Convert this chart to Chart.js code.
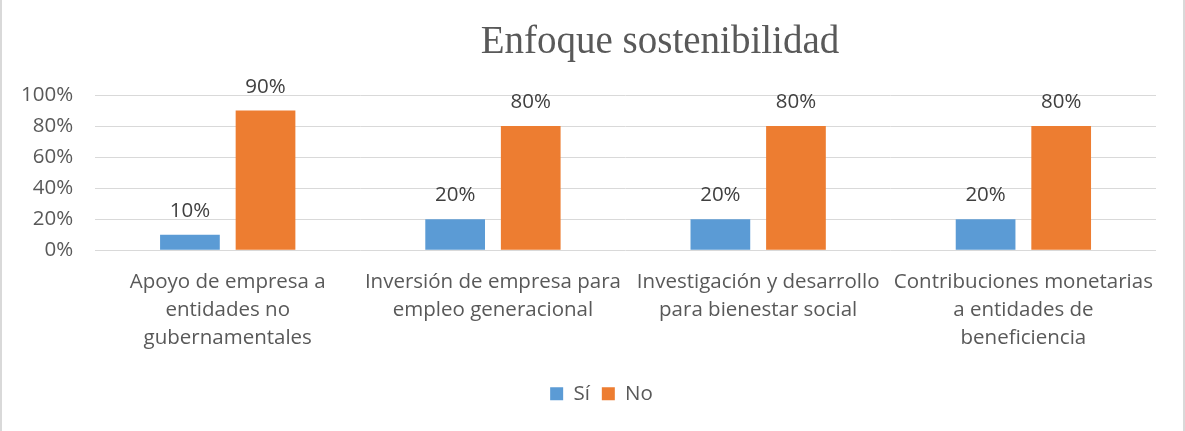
<!DOCTYPE html>
<html>
<head>
<meta charset="utf-8">
<script src="https://cdn.jsdelivr.net/npm/chart.js@4.4.0/dist/chart.umd.min.js"></script>
<style>
  html, body { margin: 0; padding: 0; background: #fff; }
  .frame {
    position: relative;
    width: 1185px;
    height: 431px;
    box-sizing: border-box;
    border-left: 2px solid #d9d9d9;
    border-right: 2px solid #d9d9d9;
  }
  canvas { position: absolute; left: 0; top: 0; }
</style>
</head>
<body>
<div class="frame">
  <canvas id="chart" width="1181" height="431"></canvas>
</div>
<script>
const chartTitle = 'Enfoque sostenibilidad';
const categories = [
  ['Apoyo de empresa a', 'entidades no', 'gubernamentales'],
  ['Inversión de empresa para', 'empleo generacional'],
  ['Investigación y desarrollo', 'para bienestar social'],
  ['Contribuciones monetarias', 'a entidades de', 'beneficiencia']
];
const seriesNames = ['Sí', 'No'];
const siValues = [10, 20, 20, 20];
const noValues = [90, 80, 80, 80];
const yTicks = [0, 20, 40, 60, 80, 100];

const textColor = '#595959';
const baseFont = "'Open Sans', sans-serif";
const fontSize = 20.5;

// title drawn by hand so it can sit a bit right of centre like the original
const titlePlugin = {
  id: 'titlePlugin',
  afterDraw(chart) {
    const ctx = chart.ctx;
    ctx.save();
    ctx.font = "39px 'Liberation Serif', serif";
    ctx.fillStyle = textColor;
    ctx.textAlign = 'center';
    ctx.textBaseline = 'alphabetic';
    ctx.fillText(chartTitle, 658, 53);
    ctx.restore();
  }
};

// nudge the legend a little right, the original isn't quite centred
const legendShift = {
  id: 'legendShift',
  afterLayout(chart) {
    if (chart.legend) {
      chart.legend.left += 24;
      chart.legend.right += 24;
    }
  }
};

// value labels above each bar
const valueLabels = {
  id: 'valueLabels',
  afterDatasetsDraw(chart) {
    const ctx = chart.ctx;
    ctx.save();
    ctx.font = fontSize + "px " + baseFont;
    ctx.fillStyle = '#404040';
    ctx.textAlign = 'center';
    ctx.textBaseline = 'alphabetic';
    chart.data.datasets.forEach((ds, i) => {
      chart.getDatasetMeta(i).data.forEach((bar, j) => {
        ctx.fillText(ds.data[j] + '%', bar.x, bar.y - 18);
      });
    });
    ctx.restore();
  }
};

new Chart(document.getElementById('chart'), {
  type: 'bar',
  data: {
    labels: categories,
    datasets: [
      { label: seriesNames[0], data: siValues, backgroundColor: '#5b9bd5' },
      { label: seriesNames[1], data: noValues, backgroundColor: '#ed7d31' }
    ]
  },
  options: {
    responsive: false,
    animation: false,
    categoryPercentage: 0.57,
    barPercentage: 0.79,
    layout: { padding: { top: 95, left: -3, right: 27, bottom: 17 } },
    plugins: {
      title: { display: false },
      tooltip: { enabled: false },
      legend: {
        position: 'bottom',
        labels: {
          boxWidth: 13,
          boxHeight: 13,
          padding: 12,
          color: textColor,
          font: { size: fontSize, family: baseFont }
        }
      }
    },
    scales: {
      x: {
        grid: { display: false },
        border: { display: false },
        afterFit(axis) { axis.height += 9; },
        ticks: {
          color: textColor,
          maxRotation: 0,
          autoSkip: false,
          padding: 10,
          font: { size: fontSize, family: baseFont, lineHeight: 1.37 }
        }
      },
      y: {
        min: 0,
        max: 100,
        afterBuildTicks(axis) {
          axis.ticks = yTicks.map(v => ({ value: v }));
        },
        grid: { color: '#d9d9d9', drawTicks: false },
        border: { display: false },
        ticks: {
          color: textColor,
          padding: 22,
          font: { size: fontSize, family: baseFont },
          callback: v => v + '%'
        }
      }
    }
  },
  plugins: [titlePlugin, legendShift, valueLabels]
});
</script>
</body>
</html>
